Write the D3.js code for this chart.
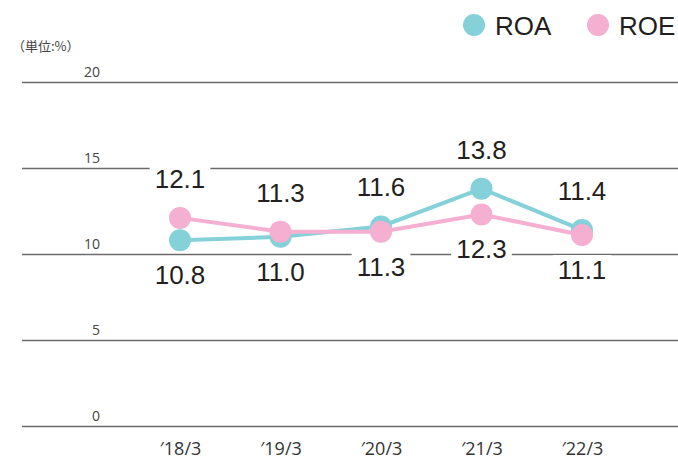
<!DOCTYPE html>
<html>
<head>
<meta charset="utf-8">
<script src="https://cdn.jsdelivr.net/npm/d3@7"></script>
<style>
  body { margin: 0; background: #fff; }
  svg { display: block; }
</style>
</head>
<body>
<div id="chart"></div>
<script>
// chart values
const categories = ["′18/3", "′19/3", "′20/3", "′21/3", "′22/3"];
const roa = [10.8, 11.0, 11.6, 13.8, 11.4];
const roe = [12.1, 11.3, 11.3, 12.3, 11.1];
const yTicks = [0, 5, 10, 15, 20];
const seriesNames = ["ROA", "ROE"];

const W = 678, H = 461;
const colors = { ROA: "#84d1d9", ROE: "#f4afd1" };

const svg = d3.select("#chart").append("svg")
    .attr("width", W)
    .attr("height", H);

const x = d3.scalePoint().domain(categories).range([180, 582]);
const y = d3.scaleLinear().domain([0, 20]).range([426, 82]);

// gridlines + y tick labels
const yAxis = svg.append("g")
    .attr("transform", "translate(22,0)")
    .call(d3.axisRight(y).tickValues(yTicks).tickSize(656).tickFormat(d3.format("d")));
yAxis.select(".domain").remove();
yAxis.selectAll(".tick line")
    .attr("stroke", "#6b6b6b")
    .attr("stroke-width", 1.3);
yAxis.selectAll(".tick text")
    .attr("x", 78)
    .attr("dy", "-6")
    .attr("text-anchor", "end")
    .attr("fill", "#444")
    .style("font-family", "'Open Sans', sans-serif")
    .style("font-size", "14px");

// category axis
const xAxis = svg.append("g")
    .attr("transform", "translate(0,426)")
    .call(d3.axisBottom(x).tickSize(0));
xAxis.select(".domain").remove();
xAxis.selectAll(".tick text")
    .attr("y", 29)
    .attr("dy", 0)
    .attr("fill", "#333")
    .style("font-family", "'Open Sans', sans-serif")
    .style("font-size", "18px");

// unit label
svg.append("text")
    .attr("x", 12)
    .attr("y", 51)
    .attr("fill", "#444")
    .style("font-family", "'Noto Sans CJK JP', sans-serif")
    .style("font-size", "13px")
    .text("（単位:%）");

// value labels: higher value above, lower value below
const labelData = [];
categories.forEach((c, i) => {
    const hi = Math.max(roa[i], roe[i]);
    const lo = Math.min(roa[i], roe[i]);
    labelData.push({ cat: c, value: hi, pos: "above" });
    labelData.push({ cat: c, value: lo, pos: "below" });
});

const labels = svg.append("g").selectAll("g")
    .data(labelData)
    .enter().append("g");

labels.append("text")
    .attr("x", d => x(d.cat))
    .attr("y", d => d.pos === "above" ? y(d.value) - 30 : y(d.value) + 44)
    .attr("text-anchor", "middle")
    .attr("fill", "#231f20")
    .style("font-family", "'Liberation Sans', Arial, sans-serif")
    .style("font-size", "26px")
    .text(d => d.value.toFixed(1));

// white box behind each label to break gridlines
labels.each(function() {
    const g = d3.select(this);
    const bb = g.select("text").node().getBBox();
    g.insert("rect", "text")
        .attr("x", bb.x - 5)
        .attr("y", bb.y)
        .attr("width", bb.width + 10)
        .attr("height", bb.height)
        .attr("fill", "#fff");
});

// series lines + markers
const line = d3.line()
    .x((d, i) => x(categories[i]))
    .y(d => y(d));

[["ROA", roa], ["ROE", roe]].forEach(([name, vals]) => {
    svg.append("path")
        .datum(vals)
        .attr("d", line)
        .attr("fill", "none")
        .attr("stroke", colors[name])
        .attr("stroke-width", 4);
    svg.append("g").selectAll("circle")
        .data(vals)
        .enter().append("circle")
        .attr("cx", (d, i) => x(categories[i]))
        .attr("cy", d => y(d))
        .attr("r", 11)
        .attr("fill", colors[name]);
});

// legend
const legendX = [474, 598];
seriesNames.forEach((name, i) => {
    svg.append("circle")
        .attr("cx", legendX[i])
        .attr("cy", 25)
        .attr("r", 11)
        .attr("fill", colors[name]);
    svg.append("text")
        .attr("x", legendX[i] + 21)
        .attr("y", 35)
        .attr("fill", "#231f20")
        .style("font-family", "'Liberation Sans', Arial, sans-serif")
        .style("font-size", "26px")
        .text(name);
});
</script>
</body>
</html>
